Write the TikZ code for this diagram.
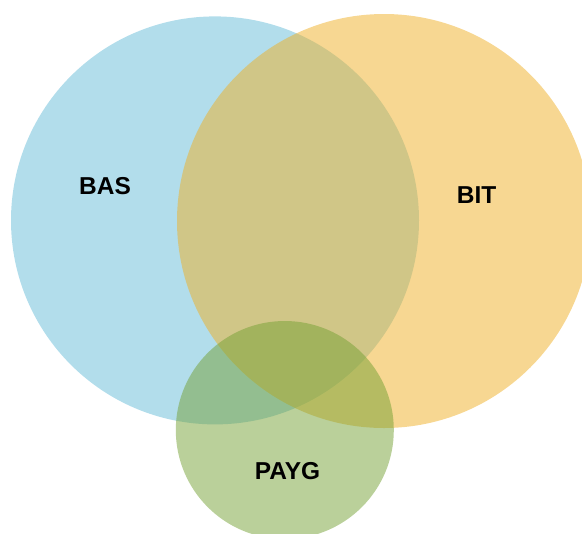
\documentclass[tikz,border=0pt]{standalone}
\usepackage{fontspec}
\setmainfont{Liberation Sans}
\usepackage{tikz}
\usetikzlibrary{positioning, shapes.geometric, calc}
\definecolor{basblue}{RGB}{101,187,215}
\definecolor{bitorange}{RGB}{239,175,37}
\definecolor{payggreen}{RGB}{117,161,53}
\tikzset{
  setc/.style  = {circle, inner sep=0pt, draw=none, fill opacity=0.5},
  bascirc/.style  = {setc, fill=basblue,    minimum size=10.2cm},
  bitcirc/.style  = {setc, fill=bitorange,  minimum size=10.35cm},
  paygcirc/.style = {setc, fill=payggreen,  minimum size=5.45cm},
  setlabel/.style = {font=\fontsize{17.4}{20}\selectfont\bfseries,
                     text=black, inner sep=0pt},
}
\begin{document}
\begin{tikzpicture}

% ────────────────────────────────────────────────────────────
%  Frame: 14.55 x 13.325 cm, origin top-left
% ────────────────────────────────────────────────────────────
\useasboundingbox (0,0) rectangle (14.55,-13.325);

% ═══════════════════════════════════════════════════════════
%  SETS  –  drawn in order blue, orange, green
% ═══════════════════════════════════════════════════════════
\node[bascirc]  (bas)  at (5.375, -5.51)  {};
\node[bitcirc]  (bit)  at (9.6,   -5.525) {};
\node[paygcirc] (payg) at (7.12, -10.75)  {};

% ═══════════════════════════════════════════════════════════
%  LABELS
% ═══════════════════════════════════════════════════════════
\node[setlabel] (bas-lbl)  at (2.625, -4.65)  {BAS};
\node[setlabel] (bit-lbl)  at (11.915, -4.865) {BIT};
\node[setlabel] (payg-lbl) at (7.19, -11.785) {PAYG};

\end{tikzpicture}
\end{document}
